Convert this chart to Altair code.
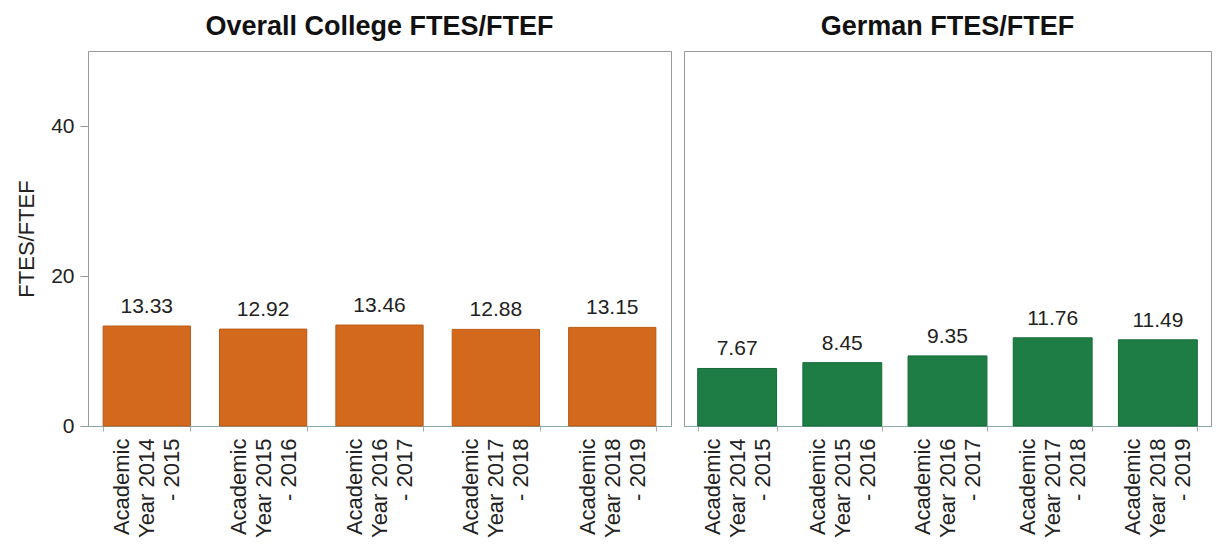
import altair as alt
import pandas as pd

years = ["Academic Year 2014 - 2015", "Academic Year 2015 - 2016", "Academic Year 2016 - 2017",
         "Academic Year 2017 - 2018", "Academic Year 2018 - 2019"]
college = [13.33, 12.92, 13.46, 12.88, 13.15]
german = [7.67, 8.45, 9.35, 11.76, 11.49]

df_c = pd.DataFrame({"year": years, "value": college})
df_g = pd.DataFrame({"year": years, "value": german})

FONT = "Liberation Sans"
label_expr = "[slice(datum.label,0,8), slice(datum.label,9,18), slice(datum.label,19)]"


def panel(df, color, edge, title, width, show_y):
    yaxis = alt.Axis(values=[0, 20, 40], grid=False, title="FTES/FTEF", labelFontSize=21,
                     titleFontSize=22, titleFontWeight="normal", titleColor="#222", labelColor="#222",
                     domain=False, tickColor="#999", tickSize=8, labelPadding=6,
                     titlePadding=12) if show_y else None
    base = alt.Chart(df).encode(
        x=alt.X("year:N", sort=years, title=None,
                scale=alt.Scale(paddingInner=0.25, paddingOuter=0.13),
                axis=alt.Axis(labelAngle=-90, labelAlign="right", labelBaseline="middle",
                              labelExpr=label_expr, labelFontSize=22, labelLineHeight=25,
                              labelOffset=-25, labelColor="#222", tickBand="extent",
                              domainColor="#8aa", tickColor="#aaa", tickSize=5,
                              labelPadding=7)),
        y=alt.Y("value:Q", scale=alt.Scale(domain=[0, 50]), axis=yaxis),
    )
    bars = base.mark_bar(color=color, stroke=edge, strokeWidth=1)
    text = base.mark_text(dy=-13, fontSize=21, font=FONT, color="#222",
                          baseline="alphabetic").encode(
        text=alt.Text("value:Q", format=".2f"))
    return (bars + text).properties(
        width=width, height=375,
        title=alt.TitleParams(title, fontSize=27, fontWeight="bold", font=FONT, color="#111",
                              anchor="middle", offset=10))


left = panel(df_c, "#D2691C", "#B95A14", "Overall College FTES/FTEF", 583, True)
right = panel(df_g, "#1D7D45", "#166B3A", "German FTES/FTEF", 527, False)

chart = alt.hconcat(left, right, spacing=0).properties(
    padding={"left": 7, "top": 4, "right": 1, "bottom": 0}
).configure(font=FONT).configure_view(stroke="#999", strokeWidth=1)

chart.save("out.html", embed_options={"renderer": "svg", "actions": False})
